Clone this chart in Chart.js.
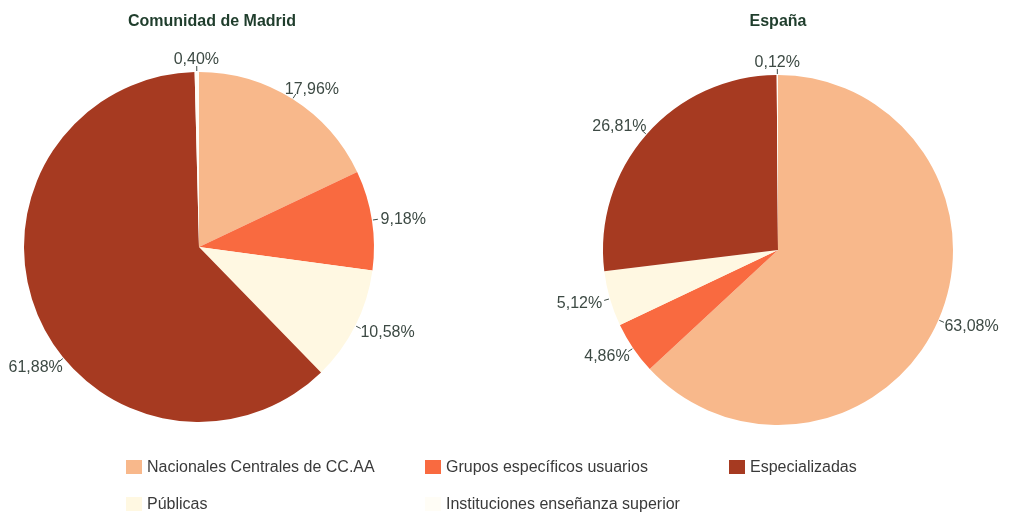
<!DOCTYPE html>
<html>
<head>
<meta charset="utf-8">
<script src="https://cdn.jsdelivr.net/npm/chart.js@4/dist/chart.umd.min.js"></script>
<style>
  html, body { margin: 0; padding: 0; background: #ffffff; }
  #stage { position: relative; width: 1017px; height: 513px; overflow: hidden; font-family: "Liberation Sans", Arial, sans-serif; }
  #stage canvas { position: absolute; left: 0; top: 0; }
  .title { position: absolute; top: 11px; font-weight: bold; font-size: 16px; color: #1f3d2c; white-space: nowrap; transform: translateX(-50%); line-height: 20px; }
  .lg { position: absolute; display: flex; align-items: center; font-size: 16px; color: #3a3a3a; white-space: nowrap; line-height: 18px; }
  .lg .sw { width: 16px; height: 14px; margin-right: 5px; flex: none; }
</style>
</head>
<body>
<div id="stage">
  <canvas id="cMadrid" width="1017" height="513"></canvas>
  <canvas id="cEspana" width="1017" height="513"></canvas>
</div>
<script>
// ---- data ----
const categories = ["Nacionales Centrales de CC.AA", "Grupos específicos usuarios", "Públicas", "Especializadas", "Instituciones enseñanza superior"];
const madridValues = [17.96, 9.18, 10.58, 61.88, 0.40];
const espanaValues = [63.08, 4.86, 5.12, 26.81, 0.12];
const chartTitles = ["Comunidad de Madrid", "España"];
const legendOrder = [0, 1, 3, 2, 4];

// ---- styles ----
const sliceColors = ["#f8b88b", "#f96a40", "#fff8e2", "#a63a21", "#fffdf6"];
const LABEL_COLOR = "#3d4a44";
const FONT = '16px "Liberation Sans", Arial, sans-serif';

function fmt(v) { return v.toFixed(2).replace('.', ',') + '%'; }

const outLabels = {
  id: 'outLabels',
  afterDatasetsDraw(chart) {
    const ctx = chart.ctx;
    const meta = chart.getDatasetMeta(0);
    const vals = chart.data.datasets[0].data;
    ctx.save();
    ctx.font = FONT;
    ctx.fillStyle = LABEL_COLOR;
    ctx.strokeStyle = LABEL_COLOR;
    ctx.lineWidth = 1;
    ctx.textAlign = 'center';
    ctx.textBaseline = 'middle';
    const W = chart.width, M = 8;
    meta.data.forEach((arc, i) => {
      const p0 = arc.getProps(['x', 'y', 'startAngle', 'endAngle', 'outerRadius'], true);
      const text = fmt(vals[i]);
      const w = ctx.measureText(text).width;
      const h = 12;
      const place = (a) => {
        const ux = Math.cos(a), uy = Math.sin(a);
        const r = p0.outerRadius;
        const px = p0.x + (r + 6) * ux, py = p0.y + (r + 6) * uy;
        return {
          ux, uy,
          lx0: p0.x + (r + 1) * ux, ly0: p0.y + (r + 1) * uy,
          px, py,
          cx: px + (w / 2 + 3) * ux, cy: py + (h / 2 + 1) * uy
        };
      };
      let a = (p0.startAngle + p0.endAngle) / 2;
      let p = place(a);
      let guard = 0;
      while ((p.cx - w / 2 < M || p.cx + w / 2 > W - M) && guard++ < 360) {
        const dir = Math.sign(Math.cos(a) * Math.sin(a)) || 1;
        a += dir * Math.PI / 360;
        p = place(a);
      }
      ctx.beginPath();
      ctx.moveTo(p.lx0, p.ly0);
      ctx.lineTo(p.px, p.py);
      ctx.stroke();
      ctx.fillText(text, p.cx, p.cy + 1);
    });
    ctx.restore();
  }
};

function makePie(id, values, padding) {
  return new Chart(document.getElementById(id), {
    type: 'pie',
    data: {
      labels: categories,
      datasets: [{
        data: values,
        backgroundColor: sliceColors,
        borderWidth: 0,
        hoverOffset: 0
      }]
    },
    options: {
      responsive: false,
      animation: false,
      devicePixelRatio: 1,
      layout: { padding },
      plugins: {
        legend: { display: false },
        title: { display: false },
        tooltip: { enabled: false }
      },
      events: []
    },
    plugins: [outLabels]
  });
}

makePie('cMadrid', madridValues, { left: 24, right: 643, top: 72, bottom: 91 });
makePie('cEspana', espanaValues, { left: 603, right: 64, top: 75, bottom: 88 });

// ---- titles ----
const stage = document.getElementById('stage');
const titleX = [212, 778];
chartTitles.forEach((t, k) => {
  const d = document.createElement('div');
  d.className = 'title';
  d.style.left = titleX[k] + 'px';
  d.textContent = t;
  stage.appendChild(d);
});

// ---- legend ----
const colX = [126, 425, 729];
const rowY = [458, 495];
legendOrder.forEach((ci, k) => {
  const col = k % 3, row = Math.floor(k / 3);
  const d = document.createElement('div');
  d.className = 'lg';
  d.style.left = colX[col] + 'px';
  d.style.top = rowY[row] + 'px';
  const sw = document.createElement('span');
  sw.className = 'sw';
  sw.style.background = sliceColors[ci];
  const tx = document.createElement('span');
  tx.textContent = categories[ci];
  d.appendChild(sw);
  d.appendChild(tx);
  stage.appendChild(d);
});
</script>
</body>
</html>
